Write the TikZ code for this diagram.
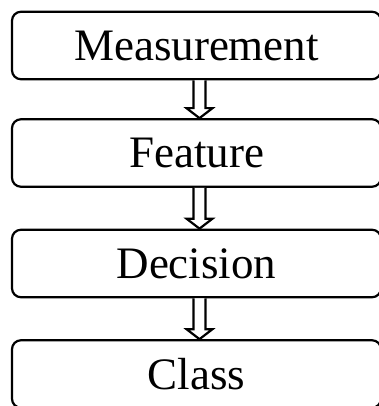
\documentclass[tikz,border=0pt]{standalone}
\usepackage{fontspec}
\setmainfont{Liberation Serif}
\usetikzlibrary{calc}
\begin{document}
\begin{tikzpicture}[x=1pt,y=1pt,
  stage/.style={draw, line width=2.2pt, rounded corners=9pt,
    minimum width=369pt, minimum height=67.5pt, inner sep=0pt,
    font=\fontsize{45}{52}\selectfont},
  hollow/.style={draw, line width=2.2pt, line join=miter, fill=white}]
\useasboundingbox (0,0) rectangle (379,-406);
\clip (0,0) rectangle (379,-406);
% the four stages, stacked top to bottom
\node[stage] (m) at (196.5,-45.5) {Measurement};
\node[stage] (f) at (196.5,-153)  {Feature};
\node[stage] (d) at (196.5,-263.5) {Decision};
\node[stage] (c) at (196.5,-374)  {Class};
% hollow downward arrows between consecutive stages
\foreach \a/\b in {m/f,f/d,d/c} {
  \draw[hollow] ($(\a.south)+(-3,0)$) -- ($(\b.north)+(-3,10)$) -- ++(-7,0)
    -- ($(\b.north)+(3,0)$) -- ($(\b.north)+(16,10)$) -- ++(-7,0)
    -- ($(\a.south)+(9,0)$);
}
\end{tikzpicture}
\end{document}
